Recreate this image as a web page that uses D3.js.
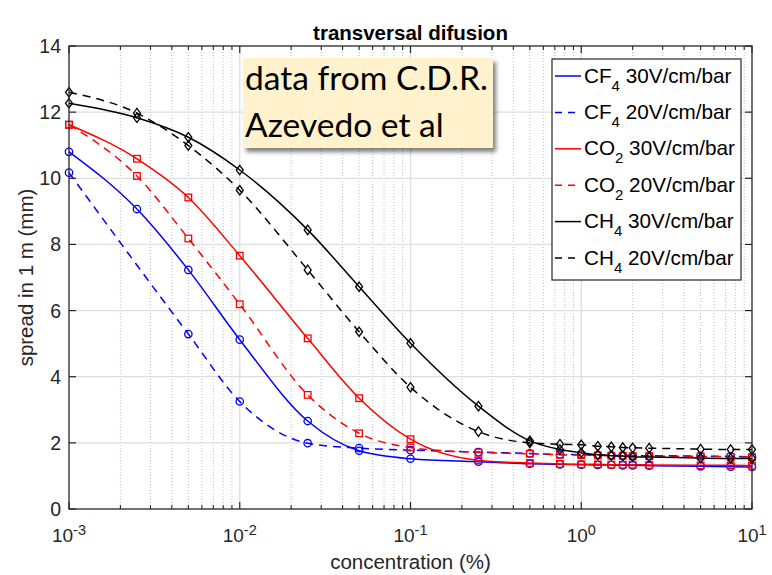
<!DOCTYPE html>
<html>
<head>
<meta charset="utf-8">
<script src="https://cdn.jsdelivr.net/npm/d3@7"></script>
<style>
  html, body { margin: 0; padding: 0; background: #fff; }
  svg { display: block; }
  text { font-family: "Liberation Sans", Arial, Helvetica, sans-serif; fill: #262626; }
  text.note { font-family: Lato, "Open Sans", sans-serif; fill: #000; }
</style>
</head>
<body>
<svg id="chart" width="772" height="575"></svg>
<script>
// ---------------- DATA ----------------
const concentration = [0.001, 0.0025, 0.005, 0.01, 0.025, 0.05, 0.1, 0.25, 0.5, 0.75, 1, 1.25, 1.5, 1.75, 2, 2.5, 5, 7.5, 10];

const cf4_30 = [10.8, 9.07, 7.23, 5.12, 2.66, 1.76, 1.52, 1.43, 1.37, 1.35, 1.34, 1.33, 1.33, 1.32, 1.32, 1.31, 1.29, 1.28, 1.27];
const cf4_20 = [10.17, null, 5.29, 3.25, 1.99, 1.84, 1.78, 1.72, 1.68, 1.65, 1.64, 1.63, 1.62, 1.62, 1.61, 1.61, 1.6, 1.59, 1.58];
const co2_30 = [11.62, 10.59, 9.42, 7.66, 5.16, 3.35, 2.11, 1.47, 1.39, 1.36, 1.35, 1.35, 1.34, 1.34, 1.34, 1.33, 1.32, 1.32, 1.31];
const co2_20 = [11.62, 10.07, 8.18, 6.19, 3.45, 2.29, 1.86, 1.71, 1.67, 1.64, 1.63, 1.62, 1.61, 1.61, 1.6, 1.6, 1.59, 1.58, 1.57];
const ch4_30 = [12.27, 11.83, 11.24, 10.25, 8.44, 6.72, 5.01, 3.11, 2.06, 1.8, 1.7, 1.64, 1.61, 1.6, 1.58, 1.57, 1.54, 1.53, 1.53];
const ch4_20 = [12.6, 11.97, 10.99, 9.64, 7.23, 5.36, 3.68, 2.34, 2.0, 1.96, 1.94, 1.9, 1.88, 1.86, 1.85, 1.84, 1.81, 1.8, 1.8];

const legendGas = ["CF", "CF", "CO", "CO", "CH", "CH"];
const legendSub = ["4", "4", "2", "2", "4", "4"];
const legendField = ["30V/cm/bar", "20V/cm/bar", "30V/cm/bar", "20V/cm/bar", "30V/cm/bar", "20V/cm/bar"];

const yTicks = [0, 2, 4, 6, 8, 10, 12, 14];
const xExponents = [-3, -2, -1, 0, 1];

const titleText = "transversal difusion";
const xLabel = "concentration (%)";
const yLabel = "spread in 1 m (mm)";
const noteLines = ["data from C.D.R.", "Azevedo et al"];

// ---------------- STYLES ----------------
const seriesValues = [cf4_30, cf4_20, co2_30, co2_20, ch4_30, ch4_20];
const seriesColor = ["#0000ff", "#0000ff", "#ff0000", "#ff0000", "#000000", "#000000"];
const seriesDashed = [false, true, false, true, false, true];
const seriesMarker = ["circle", "circle", "square", "square", "diamond", "diamond"];

// ---------------- LAYOUT ----------------
const L = 69, R = 752, T = 46, B = 509;
const svg = d3.select("#chart");
const x = d3.scaleLog().domain([1e-3, 10]).range([L, R]);
const y = d3.scaleLinear().domain([0, 14]).range([B, T]);

// grid
const minorTicks = [];
for (let e = -3; e < 1; e++) for (let m = 2; m <= 9; m++) minorTicks.push(m * Math.pow(10, e));
const majorX = xExponents.map(e => Math.pow(10, e));

const grid = svg.append("g");
grid.selectAll("line.minor").data(minorTicks).enter().append("line")
  .attr("x1", d => x(d)).attr("x2", d => x(d)).attr("y1", T).attr("y2", B)
  .attr("stroke", "#bdbdbd").attr("stroke-width", 1).attr("stroke-dasharray", "1,2");
grid.selectAll("line.majx").data(majorX.slice(1, -1)).enter().append("line")
  .attr("x1", d => x(d)).attr("x2", d => x(d)).attr("y1", T).attr("y2", B)
  .attr("stroke", "#dedede").attr("stroke-width", 1.3);
grid.selectAll("line.majy").data(yTicks.slice(1, -1)).enter().append("line")
  .attr("x1", L).attr("x2", R).attr("y1", d => y(d)).attr("y2", d => y(d))
  .attr("stroke", "#dedede").attr("stroke-width", 1.3);

// curves
const plot = svg.append("g");
const line = d3.line().x(d => x(d[0])).y(d => y(d[1])).curve(d3.curveMonotoneX);
seriesValues.forEach((vals, i) => {
  const pts = concentration.map((c, k) => [c, vals[k]]).filter(p => p[1] !== null);
  plot.append("path").datum(pts).attr("d", line)
    .attr("fill", "none").attr("stroke", seriesColor[i]).attr("stroke-width", 1.5)
    .attr("stroke-dasharray", seriesDashed[i] ? "8,6" : null);
});
// markers
seriesValues.forEach((vals, i) => {
  const pts = concentration.map((c, k) => [c, vals[k]]).filter(p => p[1] !== null);
  const g = plot.append("g").attr("fill", "none").attr("stroke", seriesColor[i]).attr("stroke-width", 1.3);
  pts.forEach(p => {
    const px = x(p[0]), py = y(p[1]);
    if (seriesMarker[i] === "circle") {
      g.append("circle").attr("cx", px).attr("cy", py).attr("r", 3.7);
    } else if (seriesMarker[i] === "square") {
      g.append("rect").attr("x", px - 3.3).attr("y", py - 3.3).attr("width", 6.6).attr("height", 6.6);
    } else {
      g.append("path").attr("d", `M${px},${py - 4.7}L${px + 3.5},${py}L${px},${py + 4.7}L${px - 3.5},${py}Z`);
    }
  });
});

// axes box and ticks
const ax = svg.append("g").attr("stroke", "#262626");
ax.append("rect").attr("x", L).attr("y", T).attr("width", R - L).attr("height", B - T)
  .attr("fill", "none").attr("stroke-width", 1.3);
yTicks.forEach(v => {
  ax.append("line").attr("x1", L).attr("x2", L + 7).attr("y1", y(v)).attr("y2", y(v)).attr("stroke-width", 1.2);
  ax.append("line").attr("x1", R).attr("x2", R - 7).attr("y1", y(v)).attr("y2", y(v)).attr("stroke-width", 1.2);
});
majorX.forEach(v => {
  ax.append("line").attr("x1", x(v)).attr("x2", x(v)).attr("y1", B).attr("y2", B - 7).attr("stroke-width", 1.2);
  ax.append("line").attr("x1", x(v)).attr("x2", x(v)).attr("y1", T).attr("y2", T + 7).attr("stroke-width", 1.2);
});
minorTicks.forEach(v => {
  ax.append("line").attr("x1", x(v)).attr("x2", x(v)).attr("y1", B).attr("y2", B - 4).attr("stroke-width", 1.1);
  ax.append("line").attr("x1", x(v)).attr("x2", x(v)).attr("y1", T).attr("y2", T + 4).attr("stroke-width", 1.1);
});

// tick labels
svg.append("g").selectAll("text").data(yTicks).enter().append("text")
  .attr("x", L - 8).attr("y", d => y(d) + 7).attr("text-anchor", "end")
  .attr("font-size", 19.5).text(d => d);
const xl = svg.append("g");
xExponents.forEach(e => {
  const t = xl.append("text").attr("x", x(Math.pow(10, e))).attr("y", 541.5)
    .attr("text-anchor", "middle").attr("font-size", 19);
  t.append("tspan").text("10");
  t.append("tspan").attr("dy", -7).attr("font-size", 14.5).text(String(e));
});

// axis labels and title
svg.append("text").attr("x", (L + R) / 2).attr("y", 569).attr("text-anchor", "middle")
  .attr("font-size", 20.5).text(xLabel);
svg.append("text").attr("transform", `translate(33,${(T + B) / 2}) rotate(-90)`)
  .attr("text-anchor", "middle").attr("font-size", 20.5).text(yLabel);
svg.append("text").attr("x", (L + R) / 2).attr("y", 40).attr("text-anchor", "middle")
  .attr("font-size", 20.5).attr("font-weight", "bold").style("fill", "#000").text(titleText);

// legend
const lg = svg.append("g");
lg.append("rect").attr("x", 552).attr("y", 59).attr("width", 189).attr("height", 221)
  .attr("fill", "#fff").attr("stroke", "#262626").attr("stroke-width", 1.2);
legendGas.forEach((g, i) => {
  const ly = 76 + i * 36.4;
  lg.append("line").attr("x1", 555).attr("x2", 581).attr("y1", ly).attr("y2", ly)
    .attr("stroke", seriesColor[i]).attr("stroke-width", 1.5)
    .attr("stroke-dasharray", seriesDashed[i] ? "7,6" : null);
  const t = lg.append("text").attr("x", 584).attr("y", ly + 6.5).attr("font-size", 20.7).style("fill", "#000");
  t.append("tspan").text(g);
  t.append("tspan").attr("dy", 8).attr("font-size", 15).text(legendSub[i]);
  t.append("tspan").attr("dy", -8).text("\u00a0" + legendField[i]);
});

// annotation box
const defs = svg.append("defs");
const f = defs.append("filter").attr("id", "shadow").attr("x", "-10%").attr("y", "-10%").attr("width", "130%").attr("height", "140%");
f.append("feDropShadow").attr("dx", 3).attr("dy", 4).attr("stdDeviation", 2.2)
  .attr("flood-color", "#000").attr("flood-opacity", 0.5);
const nb = svg.append("g");
nb.append("rect").attr("x", 243).attr("y", 58).attr("width", 250).attr("height", 90)
  .attr("fill", "#fff2cc").attr("filter", "url(#shadow)");
const noteTexts = noteLines.map((s, i) =>
  nb.append("text").attr("class", "note").attr("x", 245).attr("y", 90 + i * 46.7)
    .attr("font-size", 32).text(s));
// fit the first line to the width it occupies in the reference
const w0 = noteTexts[0].node().getComputedTextLength();
const fs = Math.max(24, Math.min(36, 32 * 243 / w0));
noteTexts.forEach(t => t.attr("font-size", fs));
</script>
</body>
</html>
